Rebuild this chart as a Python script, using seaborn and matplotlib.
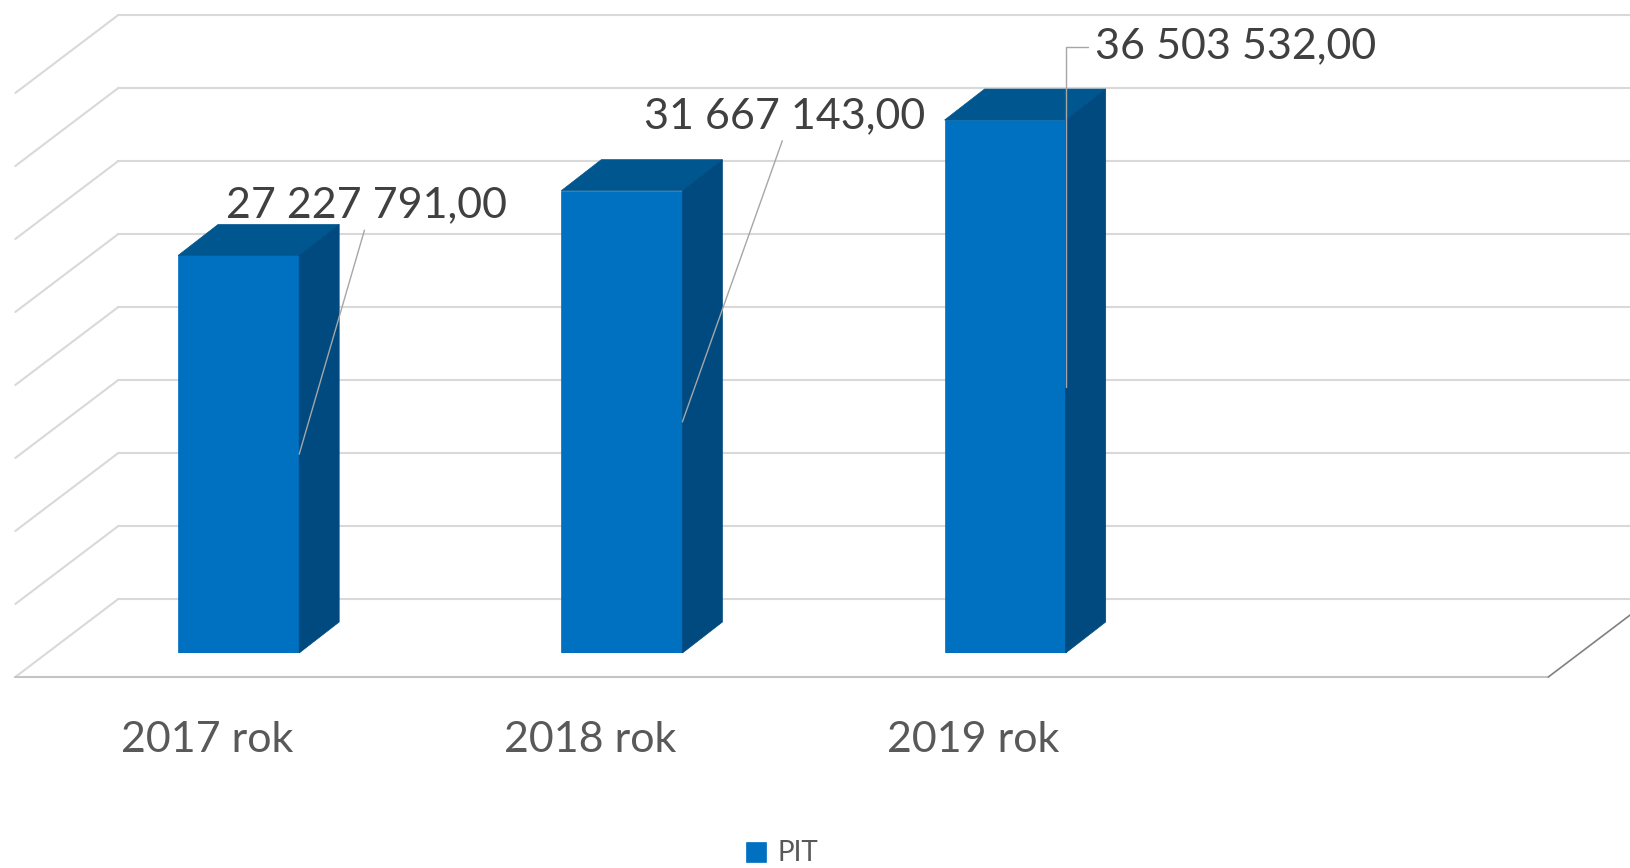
import numpy as np
import pandas as pd
import seaborn as sns
import matplotlib.pyplot as plt
from matplotlib.patches import Polygon
from matplotlib.lines import Line2D
from matplotlib.transforms import IdentityTransform, ScaledTranslation

# data
years = ["2017 rok", "2018 rok", "2019 rok"]
pit = [27227791.00, 31667143.00, 36503532.00]
series = ["PIT", "PIT", "PIT"]
wall_ticks = [0, 5e6, 10e6, 15e6, 20e6, 25e6, 30e6, 35e6, 40e6]

BLUE = "#0070C0"
TOP = "#00568F"
SIDE = "#004A80"
GRID = "#D9D9D9"

# pixel offsets of the 3D planes, relative to the front face of the bars
FRONT = np.array([-31.7, -24.0])
BACK = np.array([71.3, 54.0])
DEPTH = np.array([40.0, 31.0])

sns.set_style("white")
plt.rcParams["font.family"] = ["Lato", "DejaVu Sans"]

DPI = 100
fig = plt.figure(figsize=(16.30, 8.68), dpi=DPI)
ax = fig.add_axes([47 / 1630, 215 / 868, 1533 / 1630, 584 / 868])
ax.patch.set_visible(False)

df = pd.DataFrame({"rok": years, "wartosc": pit, "seria": series})
sns.barplot(data=df, x="rok", y="wartosc", hue="seria", palette=[BLUE],
            saturation=1, width=0.316, ax=ax, zorder=3,
            edgecolor=BLUE, linewidth=0.5)

ax.set_xlim(-0.5, 3.5)
ax.set_ylim(0, wall_ticks[-1])
ax.set_yticks([])
ax.set_xlabel("")
ax.set_ylabel("")
for s in ax.spines.values():
    s.set_visible(False)


def disp(x, y, off):
    return ax.transData.transform((x, y)) + off


def seg(p, q, color, lw, z):
    ln = Line2D([p[0], q[0]], [p[1], q[1]], color=color, lw=lw,
                transform=IdentityTransform(), zorder=z, clip_on=False)
    ax.add_line(ln)


# back wall and left wall gridlines
for v in wall_ticks:
    seg(disp(-0.5, v, BACK), disp(3.6, v, BACK), GRID, 1.5, 0.5)
    seg(disp(-0.5, v, FRONT), disp(-0.5, v, BACK), GRID, 1.5, 0.5)

# floor front edge and right edge
seg(disp(-0.5, 0, FRONT), disp(3.5, 0, FRONT), "#C4C4C4", 1.5, 1)
seg(disp(3.5, 0, FRONT), disp(3.5, 0, BACK), "#808080", 1.2, 1)

# 3D faces on the bars
bars = list(ax.containers[0])
for bar in bars:
    x0, w, h = bar.get_x(), bar.get_width(), bar.get_height()
    fl = disp(x0, h, 0)
    fr = disp(x0 + w, h, 0)
    br = disp(x0 + w, 0, 0)
    top = Polygon([fl, fr, fr + DEPTH, fl + DEPTH], closed=True, fc=TOP,
                  ec=TOP, lw=0.5, transform=IdentityTransform(), zorder=4,
                  clip_on=False)
    side = Polygon([fr, fr + DEPTH, br + DEPTH, br], closed=True, fc=SIDE,
                   ec=SIDE, lw=0.5, transform=IdentityTransform(), zorder=4,
                   clip_on=False)
    ax.add_patch(top)
    ax.add_patch(side)

# data labels with leader lines
label_offsets = [(67, 249), (102, 306), (170, 340)]
for i, (bar, v, off) in enumerate(zip(bars, pit, label_offsets)):
    txt = f"{v:,.2f}".replace(",", " ").replace(".", ",")
    x0, w, h = bar.get_x(), bar.get_width(), bar.get_height()
    if i == len(bars) - 1:
        props = dict(arrowstyle="-", color="#A6A6A6", lw=1, relpos=(0, 0.5),
                     shrinkA=3, shrinkB=0,
                     connectionstyle="angle,angleA=0,angleB=90,rad=0")
    else:
        props = dict(arrowstyle="-", color="#A6A6A6", lw=1, relpos=(0.5, 0),
                     shrinkA=2, shrinkB=0)
    ax.annotate(txt, xy=(x0 + w, h / 2), xytext=off, textcoords="offset pixels",
                ha="center", va="center", fontsize=31, color="#404040",
                arrowprops=props, zorder=5, annotation_clip=False)

# category labels sit on the front edge of the floor
ax.tick_params(axis="x", length=0, pad=49, labelsize=31, labelcolor="#595959")
shift = ScaledTranslation(FRONT[0] / DPI, 0, fig.dpi_scale_trans)
for lab in ax.get_xticklabels():
    lab.set_transform(lab.get_transform() + shift)

sns.move_legend(ax, "lower center", bbox_to_anchor=((782 - 47) / 1533, -230 / 584),
                frameon=False, title=None, fontsize=20, labelcolor="#595959",
                handlelength=0.72, handleheight=0.72, handletextpad=0.4,
                borderpad=0.1)

fig.savefig("out.png", dpi=DPI)
